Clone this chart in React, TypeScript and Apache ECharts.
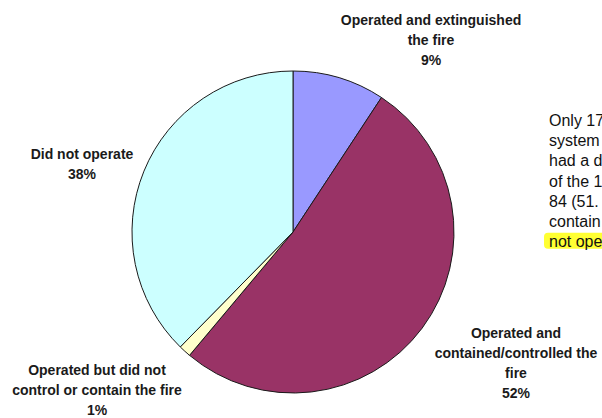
import React, { useEffect, useRef } from "react";
import * as echarts from "echarts";

const categories = [
  "Operated and extinguished\nthe fire",
  "Operated and\ncontained/controlled the\nfire",
  "Operated but did not\ncontrol or contain the fire",
  "Did not operate",
];
const counts = [15, 84, 2, 61];
const sliceColors = ["#9999FF", "#993366", "#FFFFCC", "#CCFFFF"];
const noteLines = ["Only 17", "system", "had a d", "of the 1", "84 (51.", "contain", "not ope"];

const labelCenters: [number, number][] = [
  [431, 40],
  [516, 363],
  [97, 390],
  [82, 164],
];

const FONT = "'Liberation Sans', Arial, Helvetica, sans-serif";

export default function App() {
  const ref = useRef<HTMLDivElement>(null);
  useEffect(() => {
    if (!ref.current) return;
    const chart = echarts.init(ref.current, undefined, { renderer: "svg" });
    const lh = 20.3;
    const top = 110;
    chart.setOption({
      animation: false,
      backgroundColor: "#ffffff",
      series: [
        {
          type: "pie",
          center: [293, 232],
          radius: 161,
          startAngle: 90,
          clockwise: true,
          avoidLabelOverlap: false,
          data: categories.map((name, i) => ({
            name,
            value: counts[i],
            itemStyle: { color: sliceColors[i] },
          })),
          itemStyle: { borderColor: "#1a1a1a", borderWidth: 1 },
          emphasis: { disabled: true },
          label: {
            show: true,
            position: "outside",
            formatter: (p: any) => `${p.name}\n${Math.round(p.percent)}%`,
            fontFamily: FONT,
            fontSize: 14,
            fontWeight: "bold",
            color: "#1a1a1a",
            lineHeight: 20,
            align: "center",
          },
          labelLine: { show: false },
          labelLayout: (params: any) => {
            const c = labelCenters[params.dataIndex];
            return { x: c[0], y: c[1], align: "center", verticalAlign: "middle" };
          },
        },
      ],
      graphic: [
        {
          type: "rect",
          shape: { x: 544, y: top + lh * 6 + 1, width: 70, height: 16, r: 4 },
          style: { fill: "#FFFF33" },
          silent: true,
        },
        {
          type: "text",
          x: 549,
          y: top,
          style: {
            text: noteLines.join("\n"),
            font: `16px ${FONT}`,
            lineHeight: lh,
            fill: "#111111",
            textAlign: "left",
            textVerticalAlign: "top",
          },
          silent: true,
        },
      ],
    });
    return () => chart.dispose();
  }, []);
  return (
    <div
      ref={ref}
      style={{ position: "fixed", left: 0, top: 0, width: 602, height: 418 }}
    />
  );
}
